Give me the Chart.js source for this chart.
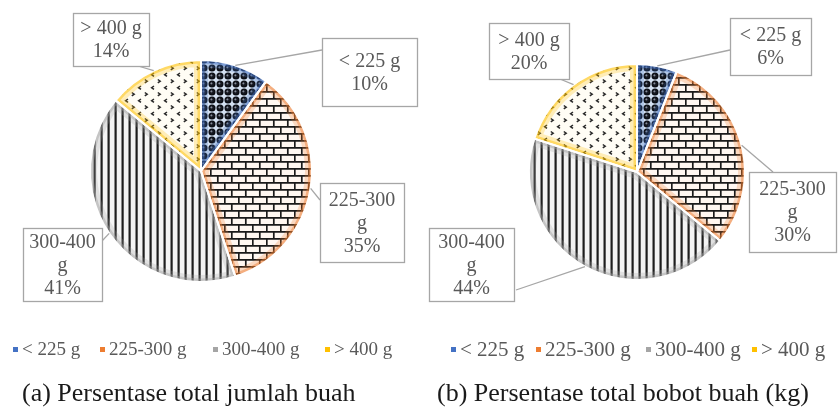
<!DOCTYPE html>
<html><head><meta charset="utf-8">
<script src="https://cdn.jsdelivr.net/npm/chart.js@4.4.1/dist/chart.umd.min.js"></script>
<style>
body{margin:0;background:#fff;width:838px;height:411px;overflow:hidden;position:relative;font-family:"Liberation Serif",serif}
.wrap{position:absolute;top:0;width:419px;height:411px}
.cap{position:absolute;top:380px;font-size:26px;line-height:26px;color:#1a1a1a;white-space:nowrap}
</style></head><body>
<div class="wrap" style="left:0"><canvas id="c1" width="419" height="411"></canvas></div>
<div class="wrap" style="left:419px"><canvas id="c2" width="419" height="411"></canvas></div>
<div class="cap" style="left:22px">(a) Persentase total jumlah buah</div>
<div class="cap" style="left:437px">(b) Persentase total bobot buah (kg)</div>
<script>
// ---- data ----
const categories = ['< 225 g', '225-300 g', '300-400 g', '> 400 g'];
const jumlahPct = [10, 35, 41, 14];
const bobotPct = [6, 30, 44, 20];
const seriesColors = ['#4472C4', '#ED7D31', '#A5A5A5', '#FFC000'];

// ---- patterns ----
function mk(w, h, fn) {
  const c = document.createElement('canvas'); c.width = w; c.height = h;
  const g = c.getContext('2d'); fn(g, w, h);
  return document.createElement('canvas').getContext('2d').createPattern(c, 'repeat');
}
const patSpheres = mk(8, 8, (g) => {
  g.fillStyle = '#d3e0f1'; g.fillRect(0, 0, 8, 8);
  const gr = g.createRadialGradient(3.2, 3.2, 0.3, 4, 4, 3.5);
  gr.addColorStop(0, '#8f96a4'); gr.addColorStop(0.35, '#1a1d26'); gr.addColorStop(1, '#04060b');
  g.fillStyle = gr; g.beginPath(); g.arc(4, 4, 3.5, 0, Math.PI * 2); g.fill();
});
const patBricks = mk(14, 14, (g) => {
  g.fillStyle = '#fff7f1'; g.fillRect(0, 0, 14, 14);
  g.strokeStyle = '#1a1a1a'; g.lineWidth = 1.7;
  g.beginPath();
  g.moveTo(0, 0.8); g.lineTo(14, 0.8);
  g.moveTo(0, 7.8); g.lineTo(14, 7.8);
  g.moveTo(0.8, 0.8); g.lineTo(0.8, 7.8);
  g.moveTo(7.8, 7.8); g.lineTo(7.8, 14);
  g.stroke();
});
const patStripes = mk(7, 7, (g) => {
  g.fillStyle = '#f4f4f4'; g.fillRect(0, 0, 7, 7);
  g.fillStyle = '#1e1e1e'; g.fillRect(2.5, 0, 2.2, 7);
});
const patChevrons = mk(13, 13, (g) => {
  g.fillStyle = '#fffdf5'; g.fillRect(0, 0, 13, 13);
  g.strokeStyle = '#2a2a2a'; g.lineWidth = 1.5;
  g.beginPath();
  g.moveTo(1.8, 1.5); g.lineTo(4.2, 3.2); g.lineTo(1.8, 4.9);
  g.moveTo(11, 8); g.lineTo(8.6, 9.7); g.lineTo(11, 11.4);
  g.stroke();
});
const patterns = [patSpheres, patBricks, patStripes, patChevrons];

function rgba(hex, a) {
  const n = parseInt(hex.slice(1), 16);
  return `rgba(${n >> 16},${(n >> 8) & 255},${n & 255},${a})`;
}

// ---- plugin: edge glow, callouts, legend ----
const deco = {
  id: 'deco',
  afterDatasetsDraw(chart, args, opts) {
    const ctx = chart.ctx;
    const meta = chart.getDatasetMeta(0);
    const vals = chart.data.datasets[0].data;
    meta.data.forEach((arc, i) => {
      const { x, y, startAngle, endAngle, outerRadius } = arc.getProps(['x', 'y', 'startAngle', 'endAngle', 'outerRadius'], true);
      ctx.save();
      ctx.beginPath(); ctx.moveTo(x, y); ctx.arc(x, y, outerRadius, startAngle, endAngle); ctx.closePath();
      ctx.clip();
      ctx.strokeStyle = rgba(seriesColors[i], 0.25); ctx.lineWidth = 14; ctx.stroke();
      ctx.strokeStyle = rgba(seriesColors[i], 0.45); ctx.lineWidth = 7; ctx.stroke();
      ctx.restore();
    });
    meta.data.forEach((arc) => {
      const { x, y, startAngle, endAngle, outerRadius } = arc.getProps(['x', 'y', 'startAngle', 'endAngle', 'outerRadius'], true);
      ctx.save();
      ctx.beginPath(); ctx.moveTo(x, y); ctx.arc(x, y, outerRadius, startAngle, endAngle); ctx.closePath();
      ctx.strokeStyle = '#ffffff'; ctx.lineWidth = 2; ctx.lineJoin = 'round'; ctx.stroke();
      ctx.restore();
    });
    // callouts
    ctx.save();
    ctx.font = opts.labelFont;
    meta.data.forEach((arc, i) => {
      const { x, y, startAngle, endAngle, outerRadius } = arc.getProps(['x', 'y', 'startAngle', 'endAngle', 'outerRadius'], true);
      const mid = (startAngle + endAngle) / 2;
      const px = x + Math.cos(mid) * outerRadius, py = y + Math.sin(mid) * outerRadius;
      const b = opts.boxes[i];
      ctx.strokeStyle = '#a6a6a6'; ctx.lineWidth = 1.3;
      ctx.beginPath(); ctx.moveTo(b.ax, b.ay); ctx.lineTo(px, py); ctx.stroke();
      ctx.fillStyle = '#fff'; ctx.fillRect(b.x, b.y, b.w, b.h);
      ctx.strokeRect(b.x + 0.5, b.y + 0.5, b.w, b.h);
      const lines = [];
      const words = chart.data.labels[i].split(' ');
      let cur = '';
      words.forEach(wd => {
        const t = cur ? cur + ' ' + wd : wd;
        if (ctx.measureText(t).width > b.w - 8 && cur) { lines.push(cur); cur = wd; } else cur = t;
      });
      lines.push(cur);
      lines.push(vals[i] + '%');
      ctx.fillStyle = '#595959'; ctx.textAlign = 'center'; ctx.textBaseline = 'middle';
      const lh = opts.lineH;
      const cy = b.y + b.h / 2 - (lines.length - 1) * lh / 2 + 1;
      lines.forEach((t, k) => ctx.fillText(t, b.x + b.w / 2, cy + k * lh));
    });
    // legend
    ctx.font = opts.legendFont; ctx.textAlign = 'left'; ctx.textBaseline = 'middle';
    chart.data.labels.forEach((lab, i) => {
      const lx = opts.legendX[i], ly = opts.legendY;
      ctx.fillStyle = seriesColors[i]; ctx.fillRect(lx, ly - 3, 5, 5);
      ctx.fillStyle = '#595959'; ctx.fillText(lab, lx + 9, ly);
    });
    ctx.restore();
  }
};

function makeChart(id, values, padding, boxes, legendX, legendFont) {
  return new Chart(document.getElementById(id), {
    type: 'pie',
    data: {
      labels: categories,
      datasets: [{ data: values, backgroundColor: patterns, borderColor: '#ffffff', borderWidth: 2 }]
    },
    options: {
      responsive: false, animation: false,
      layout: { padding },
      plugins: {
        legend: { display: false }, tooltip: { enabled: false },
        deco: { boxes, legendX, legendY: 350, legendFont, labelFont: '20px "Liberation Serif"', lineH: 23 }
      }
    },
    plugins: [deco]
  });
}

makeChart('c1', jumlahPct, { left: 89, top: 59, right: 106, bottom: 128 }, [
  { x: 322, y: 38, w: 95, h: 68, ax: 322, ay: 50 },
  { x: 320, y: 183, w: 84, h: 79, ax: 320, ay: 200 },
  { x: 23, y: 228, w: 79, h: 73, ax: 102, ay: 241 },
  { x: 73, y: 13, w: 76, h: 53, ax: 138, ay: 66 }
], [13, 100, 213, 325], '19px "Liberation Serif"');

makeChart('c2', bobotPct, { left: 109, top: 63, right: 92, bottom: 130 }, [
  { x: 311, y: 18, w: 81, h: 57, ax: 311, ay: 50 },
  { x: 330, y: 172, w: 87, h: 80, ax: 354, ay: 172 },
  { x: 10, y: 228, w: 85, h: 73, ax: 97, ay: 290 },
  { x: 70, y: 23, w: 80, h: 56, ax: 141, ay: 79 }
], [32, 117, 227, 333], '21px "Liberation Serif"');
</script>
</body></html>
